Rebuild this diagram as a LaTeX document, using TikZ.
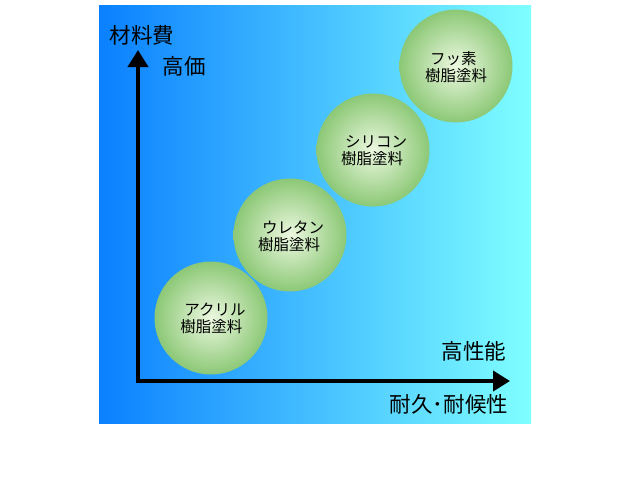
\documentclass[tikz,border=0pt]{standalone}
\usepackage{fontspec}
\setmainfont{Noto Sans CJK JP}
\usetikzlibrary{arrows.meta}
\definecolor{bgleft}{RGB}{10,128,255}
\definecolor{bgright}{RGB}{128,255,255}
\definecolor{ballout}{RGB}{140,200,118}
\definecolor{ballin}{RGB}{236,248,224}
\tikzset{
  ball/.style={circle,minimum size=113pt,inner sep=0pt,inner color=ballin,outer color=ballout},
  balltext/.style={font=\fontsize{15.5pt}{17pt}\selectfont,align=left,inner sep=0pt},
  axislabel/.style={font=\fontsize{21.5pt}{24pt}\selectfont,inner sep=0pt},
  axisline/.style={line width=4pt,-{Triangle[length=17pt,width=20pt]}}
}
\begin{document}
\begin{tikzpicture}[x=1pt,y=-1pt]
\useasboundingbox (0,0) rectangle (640,480);
\fill[white] (0,0) rectangle (640,480);
\shade[left color=bgleft,right color=bgright] (99,5) rectangle (531,423);
\node[ball] (acryl) at (211,318) {};
\node[ball] (ureth) at (290,235) {};
\node[ball] (silic) at (373,150) {};
\node[ball] (fluor) at (456,66) {};
\node[balltext] (acrylt) at (213,318) {\hspace{4pt}アクリル\\樹脂塗料};
\node[balltext] (uretht) at (291,236) {\hspace{4pt}ウレタン\\樹脂塗料};
\node[balltext] (silict) at (374,151) {\hspace{4pt}シリコン\\樹脂塗料};
\node[balltext] (fluort) at (456,67) {\hspace{5pt}フッ素\\樹脂塗料};
\coordinate (origin) at (138,381);
\coordinate (ytip) at (138,50);
\coordinate (xtip) at (510,381);
\coordinate (xstart) at (136,381);
\draw[axisline] (origin) -- (ytip);
\draw[axisline] (xstart) -- (xtip);
\node[axislabel] (ylab) at (142,35) {材料費};
\node[axislabel] (yhigh) at (184,66) {高価};
\node[axislabel] (xhigh) at (474,351) {高性能};
\node[axislabel] (xlab) at (449,404) {耐久･耐候性};
\end{tikzpicture}
\end{document}
